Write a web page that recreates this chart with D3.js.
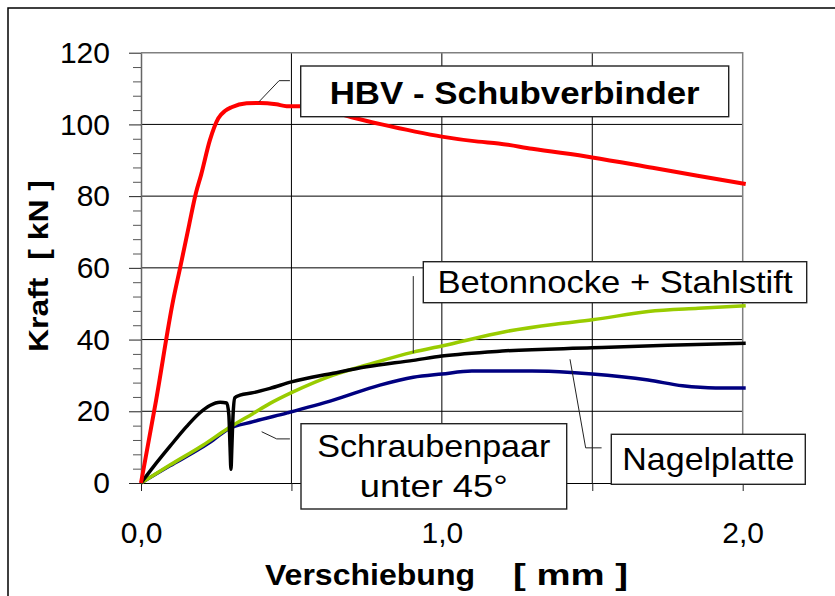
<!DOCTYPE html>
<html>
<head>
<meta charset="utf-8">
<script src="https://cdn.jsdelivr.net/npm/d3@7"></script>
<style>
  body { margin: 0; background: #fff; }
  svg { display: block; font-family: "Liberation Sans", Arial, sans-serif; }
</style>
</head>
<body>
<svg id="chart" width="835" height="596"></svg>
<script>
// Kraft [kN] over Verschiebung [mm]
var hbv = [[0,0],[0.05,23],[0.107,51],[0.13,60],[0.16,72],[0.183,81],[0.2,86],[0.229,95.6],[0.257,101.7],
    [0.28,103.8],[0.301,104.8],[0.351,105.9],[0.396,106],[0.45,105.6],[0.484,105.1],[0.53,105.1],[0.6,104.3],
    [0.7,102],[0.8,100],[0.911,98],[1.0,96.6],[1.121,95.2],[1.188,94.7],[1.3,93.2],[1.5,90.8],[1.7,87.9],
    [1.85,85.7],[2.01,83.4]];
var betonnocke = [[0,0],[0.096,5.0],[0.207,10.6],[0.285,15],[0.373,19.4],[0.429,22.2],[0.5,25.2],[0.639,30.1],
    [0.75,32.9],[0.905,36.5],[1.0,38.2],[1.21,42.2],[1.376,44.3],[1.5,45.5],[1.686,47.8],[1.852,48.7],[2.01,49.4]];
var nagelplatte = [[0,0],[0.041,4.5],[0.096,10.2],[0.152,15.8],[0.196,19.6],[0.229,21.6],[0.263,22.5],[0.285,22.3],
    [0.292,19],[0.296,10],[0.299,3.8],[0.302,10],[0.306,19],[0.312,23.8],[0.329,24.5],[0.373,25.2],[0.429,26.4],
    [0.5,28.2],[0.639,30.6],[0.75,32.4],[0.905,34.2],[1.0,35.4],[1.2,36.8],[1.5,37.7],[1.75,38.4],[2.01,39.0]];
var schrauben = [[0,0],[0.096,4.8],[0.196,9.6],[0.24,12],[0.285,14.8],[0.373,17.1],[0.484,19.5],[0.639,23.1],
    [0.794,27.3],[0.905,29.5],[1.0,30.4],[1.1,31.2],[1.3,31.2],[1.43,30.8],[1.5,30.4],[1.686,28.7],[1.8,27.1],
    [1.91,26.5],[2.01,26.5]];

var xTicks = [0, 0.5, 1.0, 1.5, 2.0];
var yTicks = [0, 20, 40, 60, 80, 100, 120];
var yMinor = d3.range(0, 121, 4).filter(function (v) { return v % 20 != 0; });

var svg = d3.select("#chart");

var x = d3.scaleLinear().domain([0, 2]).range([141, 742.7]);
var y = d3.scaleLinear().domain([0, 120]).range([483, 52.7]);

var fmt = d3.formatLocale({decimal: ",", thousands: ".", grouping: [3], currency: ["", "€"]}).format(".1f");

// outer frame, runs off the right and bottom edge
svg.append("rect")
    .attr("x", 8).attr("y", 8)
    .attr("width", 900).attr("height", 700)
    .attr("fill", "none").attr("stroke", "#000").attr("stroke-width", 1.5);

// grid
svg.append("g").selectAll("line")
    .data(yTicks.slice(1, -1))
    .enter().append("line")
    .attr("x1", x(0)).attr("x2", x(2))
    .attr("y1", function (d) { return y(d); }).attr("y2", function (d) { return y(d); })
    .attr("stroke", "#000").attr("stroke-width", 1);

svg.append("g").selectAll("line")
    .data([0.5, 1.0, 1.5])
    .enter().append("line")
    .attr("x1", function (d) { return x(d); }).attr("x2", function (d) { return x(d); })
    .attr("y1", y(120)).attr("y2", y(0))
    .attr("stroke", "#000").attr("stroke-width", 1);

// plot border top / right
svg.append("path")
    .attr("d", "M" + x(0) + "," + y(120) + "H" + x(2) + "V" + y(0))
    .attr("fill", "none").attr("stroke", "#808080").attr("stroke-width", 1.5);

// y axis
var yMinorAxis = svg.append("g")
    .attr("transform", "translate(" + x(0) + ",0)")
    .call(d3.axisLeft(y).tickValues(yMinor).tickSize(8).tickFormat(""));
yMinorAxis.select(".domain").remove();
yMinorAxis.selectAll("line").attr("stroke", "#555");

var yAxis = svg.append("g")
    .attr("transform", "translate(" + x(0) + ",0)")
    .call(d3.axisLeft(y).tickValues(yTicks).tickSize(12).tickPadding(19).tickSizeOuter(0));
yAxis.select(".domain").attr("stroke", "#666").attr("stroke-width", 1.5);
yAxis.selectAll("line").attr("stroke", "#222");
yAxis.selectAll("text").attr("font-size", 30).attr("fill", "#000")
    .attr("font-family", "Liberation Sans, Arial, sans-serif");

// x axis
var xAxis = svg.append("g")
    .attr("transform", "translate(0," + y(0) + ")")
    .call(d3.axisBottom(x).tickValues(xTicks).tickSize(8).tickPadding(31).tickSizeOuter(0)
        .tickFormat(function (d) { return d % 1 == 0 ? fmt(d) : ""; }));
xAxis.select(".domain").attr("stroke", "#000").attr("stroke-width", 1.2);
xAxis.selectAll("line").attr("stroke", "#222");
xAxis.selectAll("text").attr("font-size", 30).attr("fill", "#000")
    .attr("font-family", "Liberation Sans, Arial, sans-serif");

// curves
var line = d3.line()
    .x(function (d) { return x(d[0]); })
    .y(function (d) { return y(d[1]); })
    .curve(d3.curveMonotoneX);

var series = [
    {data: schrauben, color: "#000080", width: 3.5},
    {data: betonnocke, color: "#99CC00", width: 3.5},
    {data: nagelplatte, color: "#000000", width: 3.5},
    {data: hbv, color: "#FF0000", width: 4}
];

svg.append("g").selectAll("path")
    .data(series)
    .enter().append("path")
    .attr("d", function (d) { return line(d.data); })
    .attr("fill", "none")
    .attr("stroke", function (d) { return d.color; })
    .attr("stroke-width", function (d) { return d.width; })
    .attr("stroke-linejoin", "round");

// leader lines (data coords)
var leaders = [
    [[0.495,112.2],[0.459,112.2],[0.392,106.3]],
    [[0.905,57.7],[0.905,36.2]],
    [[0.495,12.3],[0.451,12.3],[0.401,14.3]],
    [[1.531,9.8],[1.478,9.8],[1.426,34.5]]
];
var leaderLine = d3.line()
    .x(function (d) { return x(d[0]); })
    .y(function (d) { return y(d[1]); });

svg.append("g").selectAll("path")
    .data(leaders)
    .enter().append("path")
    .attr("d", leaderLine)
    .attr("fill", "none").attr("stroke", "#222").attr("stroke-width", 1);

// label boxes
var boxes = [
    {x: 300.7, y: 66, w: 428, h: 50.7, lines: ["HBV - Schubverbinder"], bold: true, size: 32, len: [370], base: [104]},
    {x: 423.3, y: 261.7, w: 383.4, h: 41, lines: ["Betonnocke + Stahlstift"], bold: false, size: 32, len: [355], base: [293.3]},
    {x: 301, y: 423.7, w: 265.7, h: 85.3, lines: ["Schraubenpaar", "unter 45°"], bold: false, size: 31.5, len: [233, 148], base: [456.7, 496.7]},
    {x: 611.3, y: 434.3, w: 194, h: 50, lines: ["Nagelplatte"], bold: false, size: 31.5, len: [172], base: [470]}
];

var box = svg.append("g").selectAll("g")
    .data(boxes)
    .enter().append("g");

box.append("rect")
    .attr("x", function (d) { return d.x; })
    .attr("y", function (d) { return d.y; })
    .attr("width", function (d) { return d.w; })
    .attr("height", function (d) { return d.h; })
    .attr("fill", "#fff").attr("stroke", "#222").attr("stroke-width", 1.4);

box.each(function (d) {
    var g = d3.select(this);
    d.lines.forEach(function (t, i) {
        g.append("text")
            .attr("x", d.x + d.w / 2)
            .attr("y", d.base[i])
            .attr("text-anchor", "middle")
            .attr("font-size", d.size)
            .attr("font-weight", d.bold ? "bold" : "normal")
            .attr("textLength", d.len[i])
            .attr("lengthAdjust", "spacingAndGlyphs")
            .text(t);
    });
});

// axis titles
svg.append("text")
    .attr("transform", "translate(48,266) rotate(-90)")
    .attr("text-anchor", "middle")
    .attr("font-size", 28).attr("font-weight", "bold")
    .attr("textLength", 172).attr("lengthAdjust", "spacingAndGlyphs")
    .text("Kraft\u00A0\u00A0[ kN ]");

svg.append("text")
    .attr("x", 265).attr("y", 585)
    .attr("font-size", 29).attr("font-weight", "bold")
    .attr("textLength", 210).attr("lengthAdjust", "spacingAndGlyphs")
    .text("Verschiebung");

svg.append("text")
    .attr("x", 513).attr("y", 585)
    .attr("font-size", 29).attr("font-weight", "bold")
    .attr("textLength", 115).attr("lengthAdjust", "spacingAndGlyphs")
    .text("[ mm ]");
</script>
</body>
</html>
